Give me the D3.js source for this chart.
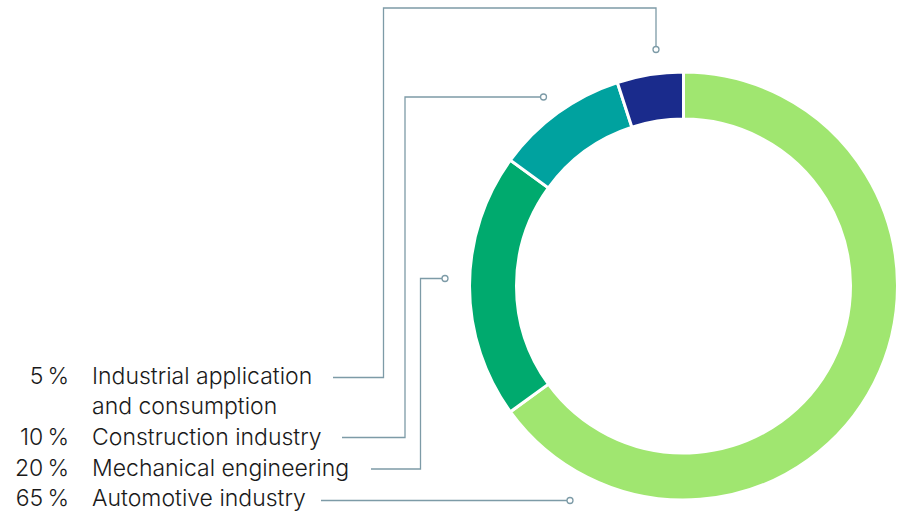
<!DOCTYPE html>
<html><head><meta charset="utf-8">
<script src="https://cdn.jsdelivr.net/npm/d3@7"></script>
<style>
html,body{margin:0;padding:0;background:#fff;}
svg{display:block;}
text{font-family:Inter,Roboto,sans-serif;font-weight:300;fill:#1a1a1a;}
</style></head>
<body>
<svg id="chart" width="897" height="513"></svg>
<script>
// Data (clockwise from 12 o'clock)
const categories = ["Automotive industry", "Mechanical engineering", "Construction industry", "Industrial application and consumption"];
const values = [65, 20, 10, 5];
const colors = ["#a0e670", "#00aa6e", "#00a29f", "#1a2b8c"];
const percentLabels = ["65\u2009%", "20\u2009%", "10\u2009%", "5\u2009%"];
const labelLines = [["Automotive industry"], ["Mechanical engineering"], ["Construction industry"], ["Industrial application", "and consumption"]];

const svg = d3.select("#chart");
const cx = 683.5, cy = 286, rOuter = 214, rInner = 167;

const pie = d3.pie().sort(null).value(d => d)(values);
const arc = d3.arc().innerRadius(rInner).outerRadius(rOuter);

const g = svg.append("g").attr("transform", `translate(${cx},${cy})`);
g.selectAll("path").data(pie).join("path")
  .attr("d", arc)
  .attr("fill", (d, i) => colors[i])
  .attr("stroke", "#fff").attr("stroke-width", 3);

const order = [3, 2, 1, 0];
const baselineY = d3.scaleLinear().domain([0, 1]).range([383.5, 414.2]);
const lineIndex = [0, 2, 3, 4];
const lineColor = "#7d9ba7";
const fs = 23;

const leaders = [
  {y: 377.5, x0: 333, path: [[383.5, 377.5], [383.5, 8], [656, 8], [656, 46]], dot: [656, 49.5]},
  {y: 437.5, x0: 342, path: [[405, 437.5], [405, 97], [540, 97]], dot: [543.5, 97]},
  {y: 469, x0: 371, path: [[420.5, 469], [420.5, 278.5], [442, 278.5]], dot: [445, 278.5]},
  {y: 500.5, x0: 321, path: [[567, 500.5]], dot: [570, 500.5]}
];

order.forEach((ci, row) => {
  const by = baselineY(lineIndex[row]);
  svg.append("text").attr("x", 69).attr("y", by).attr("text-anchor", "end")
    .attr("font-size", fs).text(percentLabels[ci]);
  labelLines[ci].forEach((t, k) => {
    svg.append("text").attr("x", 92).attr("y", baselineY(lineIndex[row] + k))
      .attr("font-size", fs).text(t);
  });
  const L = leaders[row];
  const pts = [[L.x0, L.y]].concat(L.path);
  svg.append("path").attr("d", d3.line()(pts))
    .attr("fill", "none").attr("stroke", lineColor).attr("stroke-width", 1.3);
  svg.append("circle").attr("cx", L.dot[0]).attr("cy", L.dot[1]).attr("r", 3)
    .attr("fill", "#fff").attr("stroke", lineColor).attr("stroke-width", 1.3);
});
</script>
</body></html>
